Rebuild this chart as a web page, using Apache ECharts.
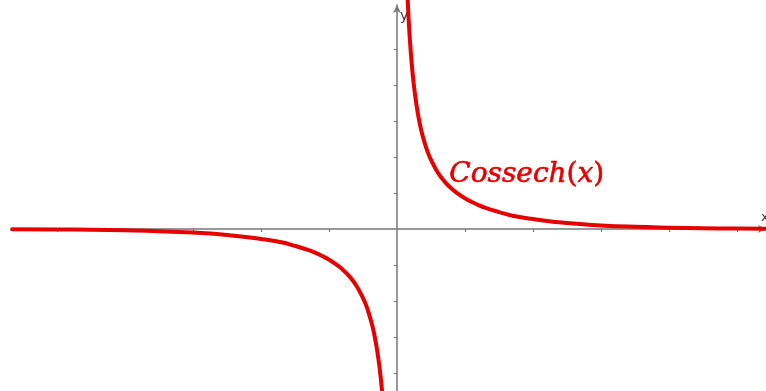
<!DOCTYPE html>
<html>
<head>
<meta charset="utf-8">
<script src="https://cdn.jsdelivr.net/npm/echarts@6/dist/echarts.min.js"></script>
<style>
  html, body { margin: 0; padding: 0; background: #fff; }
  #chart { width: 766px; height: 391px; }
</style>
</head>
<body>
<div id="chart"></div>
<script>
// points, left branch (x < 0)
const negX = [-5.66, -5, -4.5, -4, -3.5, -3, -2.5, -2, -1.7, -1.5, -1.3, -1.2, -1.1, -1, -0.9, -0.8, -0.7, -0.6, -0.5, -0.45, -0.4, -0.36, -0.33, -0.3, -0.27, -0.24, -0.22, -0.2]
const negY = [-0.007, -0.013, -0.022, -0.037, -0.060, -0.100, -0.165, -0.276, -0.368, -0.470, -0.589, -0.662, -0.749, -0.851, -0.975, -1.125, -1.317, -1.570, -1.919, -2.143, -2.435, -2.712, -2.972, -3.283, -3.659, -4.127, -4.509, -4.967]

// right branch (x > 0)
const posX = [0.15, 0.165, 0.18, 0.2, 0.22, 0.24, 0.27, 0.3, 0.33, 0.36, 0.4, 0.45, 0.5, 0.6, 0.7, 0.8, 0.9, 1, 1.1, 1.2, 1.3, 1.5, 1.7, 2, 2.5, 3, 3.5, 4, 4.5, 5, 5.43]
const posY = [6.642, 6.036, 5.527, 4.967, 4.509, 4.127, 3.659, 3.283, 2.972, 2.712, 2.435, 2.143, 1.919, 1.570, 1.317, 1.125, 0.975, 0.851, 0.749, 0.662, 0.589, 0.470, 0.368, 0.276, 0.165, 0.100, 0.060, 0.037, 0.022, 0.013, 0.009]

// tick positions on the axes
const xTicks = [-5, -4, -3, -2, -1, 1, 2, 3, 4, 5]
const yTicks = [-4, -3, -2, -1, 1, 2, 3, 4, 5]

const curveColor = '#e60000'
const axisColor = '#777'

const chart = echarts.init(document.getElementById('chart'))

const option = {
  animation: false,
  grid: { left: 12, right: 0, top: 5, bottom: 0 },
  xAxis: {
    type: 'value',
    min: -5.662,
    max: 5.426,
    splitLine: { show: false },
    axisLine: {
      onZero: true,
      lineStyle: { color: axisColor, width: 1.5 },
      symbol: ['none', 'arrow'],
      symbolSize: [6, 8]
    },
    axisTick: { show: true, length: 3, customValues: xTicks, lineStyle: { color: axisColor, width: 1.2 } },
    axisLabel: { show: false }
  },
  yAxis: {
    type: 'value',
    min: -4.5,
    max: 6.222,
    splitLine: { show: false },
    axisLine: {
      onZero: true,
      lineStyle: { color: axisColor, width: 1.5 },
      symbol: ['none', 'arrow'],
      symbolSize: [6, 8]
    },
    axisTick: { show: true, length: 3, customValues: yTicks, lineStyle: { color: axisColor, width: 1.2 } },
    axisLabel: { show: false }
  },
  series: [
    {
      type: 'line',
      data: negX.map((x, i) => [x, negY[i]]),
      showSymbol: false,
      smooth: true,
      clip: false,
      lineStyle: { color: curveColor, width: 4, cap: 'round', join: 'round' }
    },
    {
      type: 'line',
      data: posX.map((x, i) => [x, posY[i]]),
      showSymbol: false,
      smooth: true,
      clip: false,
      lineStyle: { color: curveColor, width: 4, cap: 'round', join: 'round' }
    }
  ],
  graphic: [
    {
      type: 'text',
      left: 400,
      top: 9,
      style: { text: 'y', fontSize: 14, fontFamily: 'DejaVu Sans', fill: '#333' }
    },
    {
      type: 'text',
      left: 761,
      top: 211,
      style: { text: 'x', fontSize: 13, fontFamily: 'DejaVu Sans', fill: '#333' }
    },
    {
      type: 'text',
      left: 449,
      top: 160,
      style: {
        text: '{i|Cossech}{u|(}{i|x}{u|)}',
        rich: {
          i: { fontSize: 28, fontStyle: 'italic', fontFamily: 'DejaVu Serif', fill: curveColor, stroke: curveColor, lineWidth: 0.6 },
          u: { fontSize: 28, fontFamily: 'DejaVu Serif', fill: curveColor, stroke: curveColor, lineWidth: 0.6 }
        }
      }
    }
  ]
}

chart.setOption(option)
</script>
</body>
</html>
